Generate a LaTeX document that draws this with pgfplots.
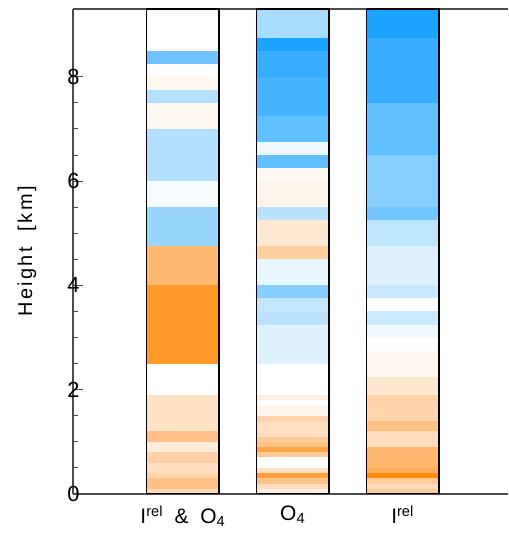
\documentclass[border=0pt]{standalone}
\usepackage{pgfplots}
\pgfplotsset{compat=1.18}
\usepackage{fontspec}
\setmainfont{Liberation Sans}
\newcommand{\bandA}[3]{\xglobal\definecolor{c#3}{HTML}{#3}\addplot[draw=none,fill=c#3] coordinates {(0.67,#1) (1.33,#1) (1.33,#2) (0.67,#2)} -- cycle;}
\newcommand{\bandB}[3]{\xglobal\definecolor{c#3}{HTML}{#3}\addplot[draw=none,fill=c#3] coordinates {(1.67,#1) (2.33,#1) (2.33,#2) (1.67,#2)} -- cycle;}
\newcommand{\bandC}[3]{\xglobal\definecolor{c#3}{HTML}{#3}\addplot[draw=none,fill=c#3] coordinates {(2.67,#1) (3.33,#1) (3.33,#2) (2.67,#2)} -- cycle;}
\begin{document}
\begin{tikzpicture}
\begin{axis}[
  scale only axis,
  width=435bp, height=485bp,
  xmin=0, xmax=3.96, ymin=0, ymax=9.3,
  axis x line=box, axis y line*=left,
  axis line style={-, draw=gray!60!black, line width=1.1bp},
  tick align=inside,
  ytick={0,2,4,6,8}, minor y tick num=3,
  major tick length=10bp, minor tick length=5bp,
  tick style={draw=gray!60!black, line width=0.9bp},
  xtick={1,2,3},
  xtick style={draw=none},
  xticklabels={I\textsuperscript{rel}\ \ \&\ \ O\textsubscript{4}, O\textsubscript{4}, I\textsuperscript{rel}},
  /pgf/number format/assume math mode=true,
  yticklabel style={font=\fontsize{22}{22}\selectfont, xshift=10bp},
  xticklabel style={font=\fontsize{21}{21}\selectfont, yshift=-8bp},
  every axis y label/.style={at={(axis description cs:-0.106,0.5)}, anchor=center, rotate=90, font=\fontsize{20}{20}\selectfont\addfontfeatures{LetterSpace=12}},
  ylabel={Height\ \ [km]},
]
% column 1: Irel & O4
\bandA{8.5}{8.25}{6EC3FF}
\bandA{8.0}{7.75}{FFF8F0}
\bandA{7.75}{7.5}{B3E0FF}
\bandA{7.5}{7.0}{FFF9F2}
\bandA{7.0}{6.0}{B3E0FF}
\bandA{6.0}{5.5}{F7FCFF}
\bandA{5.5}{4.75}{99D6FF}
\bandA{4.75}{4.0}{FFB870}
\bandA{4.0}{2.5}{FF9A2A}
\bandA{1.9}{1.2}{FFE1C4}
\bandA{1.2}{1.0}{FFC088}
\bandA{1.0}{0.8}{FFEBDA}
\bandA{0.8}{0.6}{FFD0A6}
\bandA{0.6}{0.4}{FFDFC0}
\bandA{0.4}{0.3}{FFD5AC}
\bandA{0.3}{0.1}{FFC285}
\bandA{0.1}{0.0}{FFD9B5}
% column 2: O4
\bandB{9.3}{8.75}{A8DCFF}
\bandB{8.75}{8.5}{1AA3FF}
\bandB{8.5}{8.0}{38ADFF}
\bandB{8.0}{7.25}{45B3FF}
\bandB{7.25}{6.75}{61C0FF}
\bandB{6.75}{6.5}{EFF8FF}
\bandB{6.5}{6.25}{61C0FF}
\bandB{6.25}{6.0}{FFF9F2}
\bandB{6.0}{5.5}{FFF4EA}
\bandB{5.5}{5.25}{B8E2FF}
\bandB{5.25}{4.75}{FFE8D2}
\bandB{4.75}{4.5}{FFCF9E}
\bandB{4.5}{4.0}{E8F6FF}
\bandB{4.0}{3.75}{87CEFF}
\bandB{3.75}{3.5}{C4E7FF}
\bandB{3.5}{3.25}{BBE3FF}
\bandB{3.25}{2.5}{DDF1FF}
\bandB{1.9}{1.8}{FFEDDF}
\bandB{1.7}{1.5}{FFF4EB}
\bandB{1.5}{1.4}{FFD1A8}
\bandB{1.4}{1.1}{FFDFC0}
\bandB{1.1}{1.0}{FFCC99}
\bandB{1.0}{0.9}{FFC285}
\bandB{0.9}{0.8}{FFA642}
\bandB{0.8}{0.7}{FFCC99}
\bandB{0.5}{0.4}{FFE1C4}
\bandB{0.4}{0.3}{FF9E38}
\bandB{0.3}{0.2}{FFC488}
\bandB{0.2}{0.1}{FFDDBD}
\bandB{0.1}{0.0}{FFEEDF}
% column 3: Irel
\bandC{9.3}{8.75}{1AA3FF}
\bandC{8.75}{7.5}{38ADFF}
\bandC{7.5}{6.5}{61C0FF}
\bandC{6.5}{5.5}{87CFFF}
\bandC{5.5}{5.25}{73C7FF}
\bandC{5.25}{4.75}{BEE5FF}
\bandC{4.75}{4.0}{DCF0FF}
\bandC{4.0}{3.75}{C8E9FF}
\bandC{3.5}{3.25}{CBEAFF}
\bandC{3.25}{3.0}{EFF9FF}
\bandC{2.75}{2.25}{FFF8F0}
\bandC{2.25}{1.9}{FFE6CF}
\bandC{1.9}{1.7}{FFD3A8}
\bandC{1.7}{1.4}{FFD5AB}
\bandC{1.4}{1.2}{FFC283}
\bandC{1.2}{0.9}{FFDEC0}
\bandC{0.9}{0.5}{FFB86E}
\bandC{0.5}{0.4}{FFAD58}
\bandC{0.4}{0.3}{FF8C0A}
\bandC{0.3}{0.2}{FFCC99}
\bandC{0.2}{0.1}{FFDDBB}
\bandC{0.1}{0.0}{FFCB99}
% frames
\addplot[black, line width=1.6bp] coordinates {(0.67,0) (1.33,0) (1.33,9.3) (0.67,9.3)} -- cycle;
\addplot[black, line width=1.6bp] coordinates {(1.67,0) (2.33,0) (2.33,9.3) (1.67,9.3)} -- cycle;
\addplot[black, line width=1.6bp] coordinates {(2.67,0) (3.33,0) (3.33,9.3) (2.67,9.3)} -- cycle;
\end{axis}
\path ([shift={(-73bp,-42bp)}]current axis.south west) rectangle ([shift={(0bp,9bp)}]current axis.north east);
\end{tikzpicture}
\end{document}
